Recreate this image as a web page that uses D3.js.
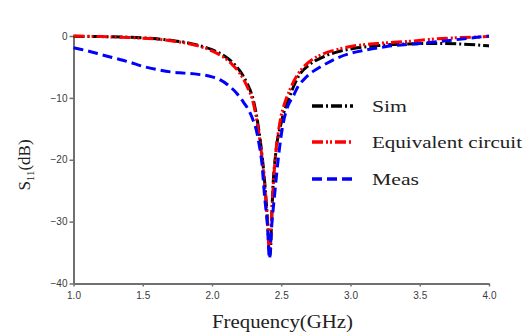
<!DOCTYPE html>
<html>
<head>
<meta charset="utf-8">
<script src="https://cdn.jsdelivr.net/npm/d3@7"></script>
<style>
  html, body { margin: 0; padding: 0; background: #fff; }
  svg { display: block; }
</style>
</head>
<body>
<svg id="chart" width="524" height="334"></svg>
<script>
// Return loss S11 versus frequency
const simFreq  = [1.0, 1.2, 1.4, 1.6, 1.7, 1.8, 1.9, 2.0, 2.1, 2.15, 2.2, 2.25, 2.3, 2.33, 2.36, 2.38, 2.40, 2.41, 2.42, 2.43, 2.44, 2.46, 2.5, 2.56, 2.63, 2.7, 2.8, 2.9, 3.0, 3.2, 3.4, 3.6, 3.8, 4.0];
const simS11   = [-0.05, -0.1, -0.2, -0.45, -0.7, -1.0, -1.5, -2.2, -3.4, -4.3, -5.6, -7.5, -10.5, -14, -19, -23.5, -29.5, -33, -35.5, -30, -24.5, -19, -14, -9.8, -6.3, -4.7, -3.4, -2.6, -2.1, -1.55, -1.3, -1.2, -1.3, -1.6];

const eqFreq   = [1.0, 1.2, 1.4, 1.6, 1.7, 1.8, 1.9, 2.0, 2.1, 2.15, 2.2, 2.25, 2.3, 2.33, 2.36, 2.38, 2.40, 2.415, 2.425, 2.44, 2.46, 2.49, 2.53, 2.56, 2.6, 2.65, 2.7, 2.8, 2.9, 3.0, 3.2, 3.4, 3.6, 3.8, 4.0];
const eqS11    = [0, -0.1, -0.25, -0.5, -0.75, -1.1, -1.6, -2.4, -3.7, -4.7, -6.0, -8.0, -11, -14.5, -19.5, -24, -30, -35, -32, -25, -19, -14, -10.5, -8.8, -6.9, -5.3, -4.2, -2.9, -2.2, -1.7, -1.2, -0.9, -0.5, -0.25, -0.1];

const measFreq = [1.0, 1.1, 1.2, 1.3, 1.4, 1.5, 1.6, 1.7, 1.8, 1.9, 2.0, 2.06, 2.12, 2.18, 2.23, 2.27, 2.30, 2.32, 2.34, 2.36, 2.38, 2.40, 2.415, 2.43, 2.455, 2.48, 2.51, 2.55, 2.585, 2.62, 2.66, 2.7, 2.76, 2.83, 2.9, 3.0, 3.1, 3.26, 3.5, 3.74, 3.9, 4.0];
const measS11  = [-1.9, -2.4, -3.0, -3.6, -4.2, -4.9, -5.4, -5.8, -6.0, -6.2, -6.6, -7.1, -8.0, -9.3, -10.8, -12.2, -13.8, -15.2, -17.5, -20.5, -26, -30.5, -36, -31, -25, -19.5, -14.6, -11.2, -9.8, -8.2, -7.1, -6.2, -5.3, -4.4, -3.6, -2.8, -2.3, -1.7, -1.2, -0.65, -0.25, 0];

const xTicks = [1.0, 1.5, 2.0, 2.5, 3.0, 3.5, 4.0];
const yTicks = [0, -10, -20, -30, -40];
const seriesNames = ["Sim", "Equivalent circuit", "Meas"];

const series = [
  { name: seriesNames[0], freq: simFreq,  s11: simS11,  color: "#000000", dash: "11,3,2,3" },
  { name: seriesNames[1], freq: eqFreq,   s11: eqS11,   color: "#ff0000", dash: "11,3,2,2,2,3" },
  { name: seriesNames[2], freq: measFreq, s11: measS11, color: "#0000ff", dash: "10,5" }
];

const svg = d3.select("#chart");
const x = d3.scaleLinear().domain([1, 4]).range([73.5, 489]);
const y = d3.scaleLinear().domain([-40, 0]).range([283.5, 36]);

const axisColor = "#707070";
const labelColor = "#3a3a3a";

// Axes
const xAxis = svg.append("g").attr("transform", "translate(0,283.5)")
  .call(d3.axisBottom(x).tickValues(xTicks).tickFormat(d3.format(".1f")).tickSize(3).tickSizeOuter(0));
const yAxis = svg.append("g").attr("transform", "translate(73.5,0)")
  .call(d3.axisLeft(y).tickValues(yTicks).tickFormat(d3.format("d")).tickSize(4).tickSizeOuter(0));

[xAxis, yAxis].forEach(g => {
  g.select(".domain").attr("stroke", axisColor).attr("stroke-width", 2);
  g.selectAll(".tick line").attr("stroke", axisColor).attr("stroke-width", 1.5);
  g.selectAll(".tick text")
    .attr("fill", labelColor)
    .attr("font-family", "Liberation Sans, Arial, sans-serif")
    .attr("font-size", 10);
});
xAxis.selectAll(".tick text").attr("dy", "0.71em").attr("y", 8);
yAxis.selectAll(".tick text").attr("x", -6);

// Curves
const line = d3.line()
  .x(d => x(d[0]))
  .y(d => y(d[1]))
  .curve(d3.curveMonotoneX);

series.forEach(s => {
  svg.append("path")
    .datum(s.freq.map((f, i) => [f, s.s11[i]]))
    .attr("fill", "none")
    .attr("stroke", s.color)
    .attr("stroke-width", 3)
    .attr("stroke-dasharray", s.dash)
    .attr("d", line);
});

// Legend
const legendRows = [106, 142, 179];
const legendWidths = [35, 150, 47];
series.forEach((s, i) => {
  svg.append("line")
    .attr("x1", 312).attr("x2", 353)
    .attr("y1", legendRows[i]).attr("y2", legendRows[i])
    .attr("stroke", s.color)
    .attr("stroke-width", 3.5)
    .attr("stroke-dasharray", s.dash);
  svg.append("text")
    .attr("x", 372).attr("y", legendRows[i] + 6)
    .attr("font-family", "Liberation Serif, Times New Roman, serif")
    .attr("font-size", 17)
    .attr("fill", "#222")
    .attr("textLength", legendWidths[i])
    .attr("lengthAdjust", "spacingAndGlyphs")
    .text(s.name);
});

// Axis titles
svg.append("text")
  .attr("x", 212).attr("y", 328)
  .attr("font-family", "Liberation Serif, Times New Roman, serif")
  .attr("font-size", 18)
  .attr("fill", "#222")
  .attr("textLength", 141)
  .attr("lengthAdjust", "spacingAndGlyphs")
  .text("Frequency(GHz)");

const yTitle = svg.append("text")
  .attr("transform", "translate(30,165) rotate(-90)")
  .attr("text-anchor", "middle")
  .attr("font-family", "Liberation Serif, Times New Roman, serif")
  .attr("font-size", 17)
  .attr("fill", "#222");
yTitle.append("tspan").text("S");
yTitle.append("tspan").attr("font-size", 11).attr("dy", 4).text("11");
yTitle.append("tspan").attr("dy", -4).text("(dB)");
</script>
</body>
</html>
